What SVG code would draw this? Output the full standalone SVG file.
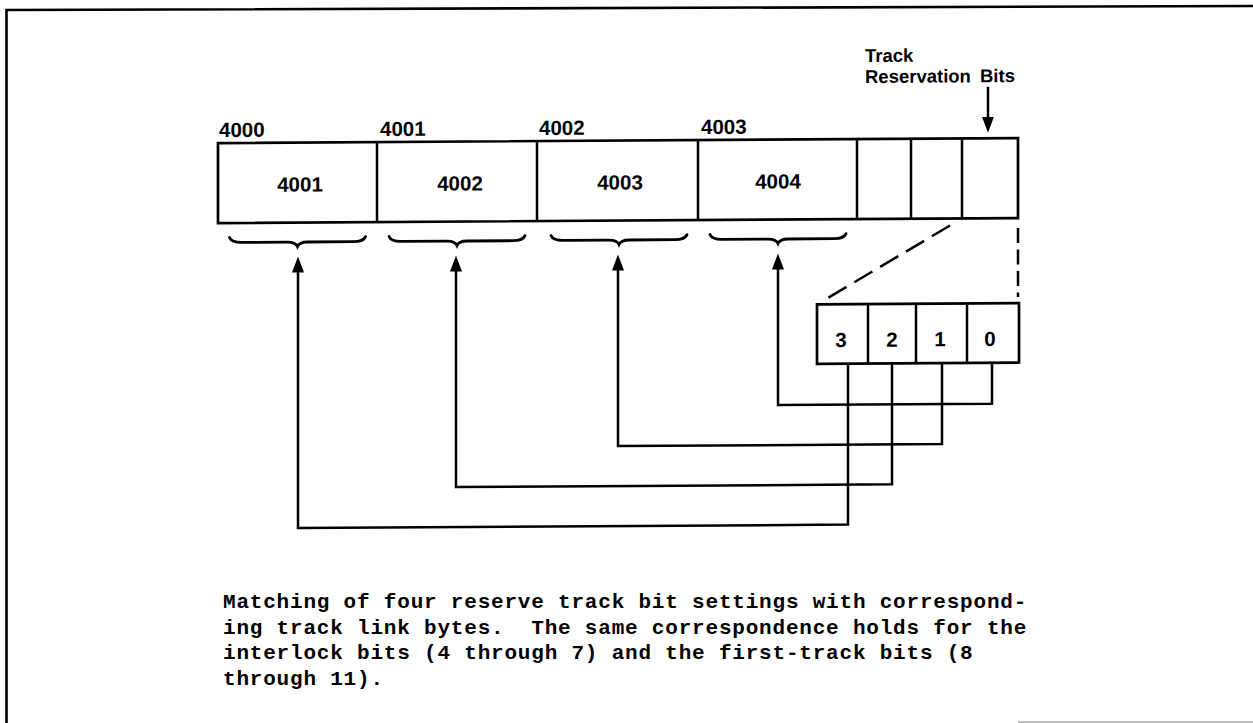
<svg xmlns="http://www.w3.org/2000/svg" width="1253" height="723" viewBox="0 0 1253 723">
<style>
.box{fill:#fff;stroke:#000;stroke-width:2.7}
.ln{fill:none;stroke:#000;stroke-width:2.5;stroke-linejoin:miter}
.br{fill:none;stroke:#000;stroke-width:2.8;stroke-linecap:round}
.dash{fill:none;stroke:#000;stroke-width:2.5}
.lbl{font-family:"Liberation Sans",Arial,sans-serif;font-weight:bold;font-size:20.5px;fill:#000}
.tl{font-family:"Liberation Sans",Arial,sans-serif;font-weight:bold;font-size:18.5px;fill:#000}
.cap{font-family:"Liberation Mono","Courier New",monospace;font-weight:bold;font-size:21px;letter-spacing:0.8px;fill:#000;white-space:pre}
</style>
<defs>
<marker id="ah" viewBox="0 0 16 12" refX="6" refY="6" markerWidth="16" markerHeight="12" markerUnits="userSpaceOnUse" orient="auto">
<path d="M0,0 L16,6 L0,12 Z" fill="#000"/>
</marker>
</defs>
<rect width="1253" height="723" fill="#fff"/>
<g id="frame">
<path d="M6.5,723 L6.5,10 L1253,6" fill="none" stroke="#000" stroke-width="2.6"/>
<line x1="1018" y1="722" x2="1253" y2="722" stroke="#aaa" stroke-width="1.5"/>
</g>
<g transform="translate(0,3.93) skewY(-0.36)">
<g id="link-bytes">
<rect class="box" x="218" y="140.5" width="800" height="80"/>
<path class="ln" d="M377,140.5 V220.5 M537,140.5 V220.5 M698,140.5 V220.5 M857,140.5 V220.5 M911,140.5 V220.5 M962,140.5 V220.5"/>
</g>
<g id="byte-4000">
<text class="lbl" x="219" y="134.5">4000</text>
<text class="lbl" x="300" y="189.5" text-anchor="middle">4001</text>
</g>
<g id="byte-4001">
<text class="lbl" x="380" y="134.5">4001</text>
<text class="lbl" x="460" y="189.5" text-anchor="middle">4002</text>
</g>
<g id="byte-4002">
<text class="lbl" x="539" y="134.5">4002</text>
<text class="lbl" x="620" y="189.5" text-anchor="middle">4003</text>
</g>
<g id="byte-4003">
<text class="lbl" x="701" y="134.5">4003</text>
<text class="lbl" x="778" y="189.5" text-anchor="middle">4004</text>
</g>
<g id="track-label">
<text class="tl" x="865" y="63.5">Track</text>
<text class="tl" x="865" y="84.5">Reservation</text>
<text class="tl" x="980" y="84.5">Bits</text>
</g>
<g id="braces">
<path class="br" d="M229.5,235 Q231.5,240 241.5,240 L287.5,240 Q295.5,240 297.5,244.5 Q299.5,240 307.5,240 L353.5,240 Q363.5,240 365.5,235"/>
<path class="br" d="M389,235 Q391,240 401,240 L447,240 Q455,240 457,244.5 Q459,240 467,240 L513,240 Q523,240 525,235"/>
<path class="br" d="M551,235 Q553,240 563,240 L609,240 Q617,240 619,244.5 Q621,240 629,240 L675,240 Q685,240 687,235"/>
<path class="br" d="M710,235 Q712,240 722,240 L768,240 Q776,240 778,244.5 Q780,240 788,240 L834,240 Q844,240 846,235"/>
</g>
<g id="bit-box">
<rect class="box" x="817" y="305.5" width="202" height="59.5"/>
<path class="ln" d="M868,305.5 V365 M916,305.5 V365 M967,305.5 V365"/>
<text class="lbl" x="841" y="348.3" text-anchor="middle">3</text>
<text class="lbl" x="892" y="348.3" text-anchor="middle">2</text>
<text class="lbl" x="940" y="348.3" text-anchor="middle">1</text>
<text class="lbl" x="990" y="348.3" text-anchor="middle">0</text>
</g>
<g id="connectors">
<path class="ln" d="M988,89 V125" marker-end="url(#ah)"/>
<path class="dash" d="M950,227.5 L826,300.3" stroke-dasharray="21 9"/>
<path class="dash" d="M1018,230.5 V299.5" stroke-dasharray="15 6.5"/>
<path class="ln" d="M992,365 V406 H778 V264.5" marker-end="url(#ah)"/>
<path class="ln" d="M942,365 V446 H618 V264.5" marker-end="url(#ah)"/>
<path class="ln" d="M892,365 V486 H456 V264.5" marker-end="url(#ah)"/>
<path class="ln" d="M848,365 V526 H298 V264.5" marker-end="url(#ah)"/>
</g>
</g>
<g id="caption">
<text class="cap" x="223" y="608">Matching of four reserve track bit settings with correspond-</text>
<text class="cap" x="223" y="633.5" xml:space="preserve">ing track link bytes.  The same correspondence holds for the</text>
<text class="cap" x="223" y="659">interlock bits (4 through 7) and the first-track bits (8</text>
<text class="cap" x="223" y="684.5">through 11).</text>
</g>
</svg>
